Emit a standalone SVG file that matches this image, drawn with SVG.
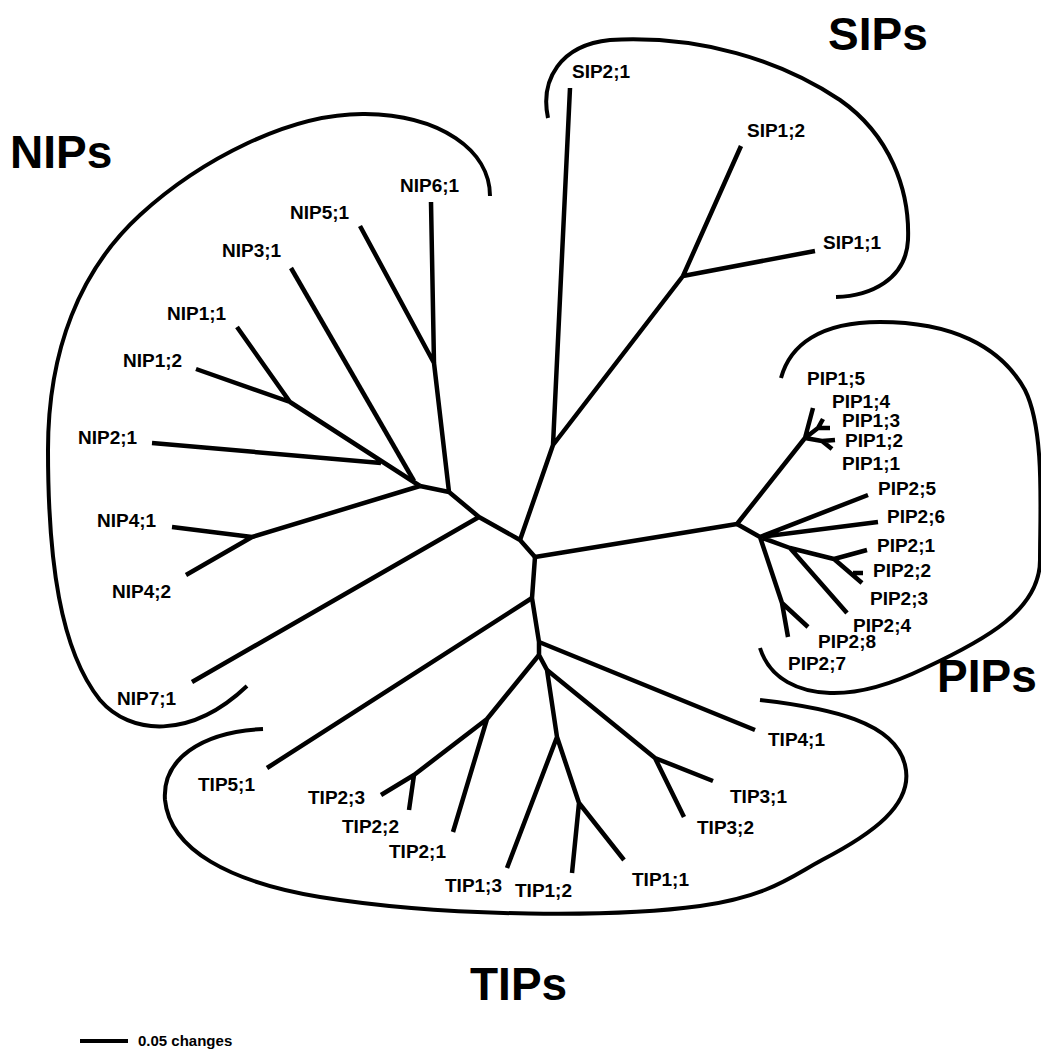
<svg xmlns="http://www.w3.org/2000/svg" width="1041" height="1051" viewBox="0 0 1041 1051">
<style>
.e{stroke:#000;stroke-width:4.5;fill:none;stroke-linecap:butt;stroke-linejoin:round}
.o{stroke:#000;stroke-width:4;fill:none;stroke-linecap:butt}
.t{font-family:"Liberation Sans",Arial,sans-serif;font-weight:bold;font-size:19px;fill:#000}
.b{font-family:"Liberation Sans",Arial,sans-serif;font-weight:bold;font-size:46px;fill:#000}
.s{font-family:"Liberation Sans",Arial,sans-serif;font-weight:bold;font-size:15px;fill:#000}
</style>
<rect width="1041" height="1051" fill="#fff"/>
<g id="outlines">
<path id="nip-outline" class="o" d="M490,196 C490,150 440,115 365,114 C290,113 200,160 140,215 C80,270 48,350 48,450 C48,560 60,650 100,700 C130,735 190,740 247,686"/>
<path id="sip-outline" class="o" d="M548,118 C540,80 560,45 610,40 C700,35 780,60 840,100 C890,135 910,190 908,240 C906,280 870,296 836,297"/>
<path id="pip-outline" class="o" d="M781,378 C790,345 820,322 880,322 C950,322 1000,345 1025,390 C1045,430 1040,510 1040,560 C1040,610 985,640 925,668 C890,685 860,694 830,693 C800,692 770,680 760,648"/>
<path id="tip-outline" class="o" d="M760,700 C830,708 895,722 905,765 C915,805 870,835 822,860 C792,876 770,896 700,906 C620,917 450,918 320,897 C230,882 170,850 165,800 C162,760 200,732 263,729"/>
</g>
<g id="connectors">
<path class="e" d="M431,202 L434,363 L449,492 M360,226 L434,363"/>
<path class="e" d="M291,268 L414,481"/>
<path class="e" d="M237,327 L290,402 M196,369 L290,402 L420,486 M152,443 L381,463"/>
<path class="e" d="M172,527 L252,537 M186,575 L252,537 L420,486"/>
<path class="e" d="M420,486 L449,492 L479,517 L520,540 L535,557 M192,682 L479,517"/>
<path class="e" d="M520,540 L553,445 L570,88 M553,445 L683,276 L741,146 M683,276 L815,251"/>
<path class="e" d="M535,557 L737,524 L805,438 L813,408 M805,438 L818,428 L823,419 M818,428 L830,428 M805,438 L822,441 L835,440 M822,441 L832,449"/>
<path class="e" d="M737,524 L760,537 L868,495 M760,537 L878,522 M760,537 L790,548 L834,559 L867,550 M834,559 L862,583 M853,573 L863,573 M790,548 L847,613 M760,537 L782,603 L788,637 M782,603 L808,627"/>
<path class="e" d="M535,557 L532,598 L539,642 L539,655 L547,670 L557,737 L579,803 L572,873 M579,803 L624,860 M557,737 L507,868"/>
<path class="e" d="M532,598 L267,768 M539,642 L755,730 M547,670 L655,758 L713,781 M655,758 L684,817"/>
<path class="e" d="M539,655 L487,719 L453,832 M487,719 L414,775 L381,795 M414,775 L409,810"/>
</g>
<g id="leaves">
<g id="NIP6_1"><text class="t" x="400" y="192">NIP6;1</text></g>
<g id="NIP5_1"><text class="t" x="290" y="219">NIP5;1</text></g>
<g id="NIP3_1"><text class="t" x="222" y="257">NIP3;1</text></g>
<g id="NIP1_1"><text class="t" x="167" y="320">NIP1;1</text></g>
<g id="NIP1_2"><text class="t" x="123" y="367">NIP1;2</text></g>
<g id="NIP2_1"><text class="t" x="78" y="444">NIP2;1</text></g>
<g id="NIP4_1"><text class="t" x="97" y="527">NIP4;1</text></g>
<g id="NIP4_2"><text class="t" x="112" y="598">NIP4;2</text></g>
<g id="NIP7_1"><text class="t" x="117" y="705">NIP7;1</text></g>
<g id="SIP2_1"><text class="t" x="572" y="78">SIP2;1</text></g>
<g id="SIP1_2"><text class="t" x="747" y="137">SIP1;2</text></g>
<g id="SIP1_1"><text class="t" x="823" y="249">SIP1;1</text></g>
<g id="PIP1_5"><text class="t" x="807" y="385">PIP1;5</text></g>
<g id="PIP1_4"><text class="t" x="832" y="408">PIP1;4</text></g>
<g id="PIP1_3"><text class="t" x="842" y="427">PIP1;3</text></g>
<g id="PIP1_2"><text class="t" x="845" y="447">PIP1;2</text></g>
<g id="PIP1_1"><text class="t" x="842" y="470">PIP1;1</text></g>
<g id="PIP2_5"><text class="t" x="878" y="495">PIP2;5</text></g>
<g id="PIP2_6"><text class="t" x="887" y="523">PIP2;6</text></g>
<g id="PIP2_1"><text class="t" x="877" y="552">PIP2;1</text></g>
<g id="PIP2_2"><text class="t" x="873" y="577">PIP2;2</text></g>
<g id="PIP2_3"><text class="t" x="870" y="605">PIP2;3</text></g>
<g id="PIP2_4"><text class="t" x="853" y="632">PIP2;4</text></g>
<g id="PIP2_8"><text class="t" x="818" y="648">PIP2;8</text></g>
<g id="PIP2_7"><text class="t" x="788" y="670">PIP2;7</text></g>
<g id="TIP5_1"><text class="t" x="198" y="791">TIP5;1</text></g>
<g id="TIP2_3"><text class="t" x="308" y="804">TIP2;3</text></g>
<g id="TIP2_2"><text class="t" x="342" y="833">TIP2;2</text></g>
<g id="TIP2_1"><text class="t" x="389" y="858">TIP2;1</text></g>
<g id="TIP4_1"><text class="t" x="768" y="746">TIP4;1</text></g>
<g id="TIP3_1"><text class="t" x="730" y="803">TIP3;1</text></g>
<g id="TIP3_2"><text class="t" x="697" y="834">TIP3;2</text></g>
<g id="TIP1_1"><text class="t" x="632" y="886">TIP1;1</text></g>
<g id="TIP1_3"><text class="t" x="445" y="892">TIP1;3</text></g>
<g id="TIP1_2"><text class="t" x="515" y="897">TIP1;2</text></g>
</g>
<g id="groups">
<g id="NIPs"><text class="b" x="10" y="168">NIPs</text></g>
<g id="SIPs"><text class="b" x="828" y="50">SIPs</text></g>
<g id="PIPs"><text class="b" x="937" y="692">PIPs</text></g>
<g id="TIPs"><text class="b" x="470" y="1000">TIPs</text></g>
</g>
<g id="scale">
<line x1="80" y1="1041" x2="128" y2="1041" stroke="#000" stroke-width="4"/>
<text class="s" x="138" y="1046">0.05 changes</text>
</g>
</svg>
